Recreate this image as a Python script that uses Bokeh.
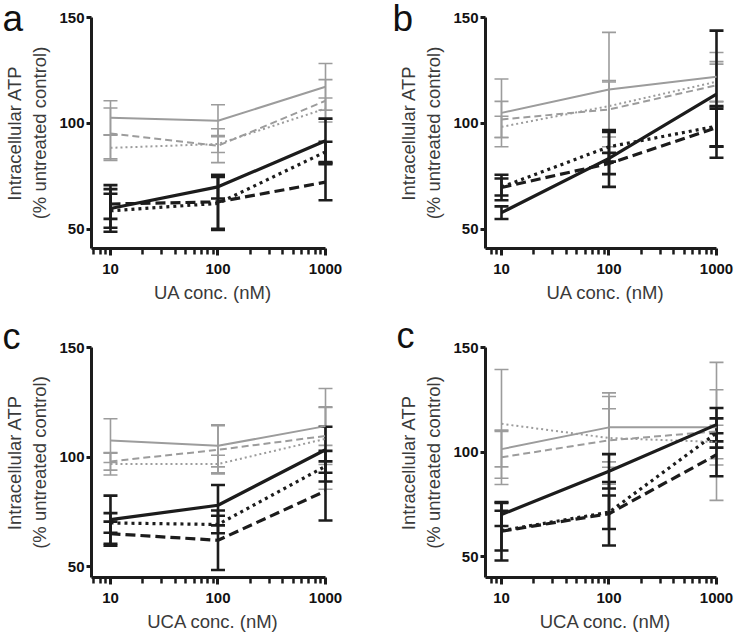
from bokeh.plotting import figure
from bokeh.layouts import gridplot
from bokeh.models import FixedTicker, NumeralTickFormatter
from bokeh.embed import file_html
from bokeh.resources import INLINE

conc = [10, 100, 1000]
x_major_ticks = [10, 100, 1000]
x_minor_ticks = [7, 8, 9, 20, 30, 40, 50, 60, 70, 80, 90, 200, 300, 400, 500, 600, 700, 800, 900]
y_ticks = [50, 100, 150]

# Panel a (UA)
a_gray_solid = [102.7, 101.3, 117.3];  a_gray_solid_err = [8, 7.5, 11]
a_gray_dashed = [95.3, 89.5, 110.7];   a_gray_dashed_err = [12, 8, 10]
a_gray_dotted = [88.5, 90.3, 107.0];   a_gray_dotted_err = [6, 4, 5]
a_black_solid = [59.9, 70.1, 91.8];    a_black_solid_err = [11, 5.5, 10.5]
a_black_dashed = [62.0, 63.0, 72.3];   a_black_dashed_err = [7, 12.7, 8.5]
a_black_dotted = [58.8, 62.3, 86.6];   a_black_dotted_err = [8, 12.5, 4.8]

# Panel b (UA)
b_gray_solid = [105.0, 116.0, 122.0];  b_gray_solid_err = [16, 27, 11.5]
b_gray_dashed = [101.9, 106.6, 118.0]; b_gray_dashed_err = [8.5, 13, 10]
b_gray_dotted = [98.4, 108.2, 119.7];  b_gray_dotted_err = [5, 12, 9.5]
b_black_solid = [57.9, 83.5, 113.8];   b_black_solid_err = [3, 13.4, 30]
b_black_dashed = [69.8, 81.1, 98.0];   b_black_dashed_err = [6, 5, 9]
b_black_dotted = [70.0, 89.0, 98.7];   b_black_dotted_err = [4, 7, 9.5]

# Panel c (UCA)
c_gray_solid = [107.5, 105.1, 114.1];  c_gray_solid_err = [10, 9.6, 8.8]
c_gray_dashed = [98.0, 103.3, 109.6];  c_gray_dashed_err = [4, 11, 13]
c_gray_dotted = [96.8, 96.8, 108.3];   c_gray_dotted_err = [5, 4, 23]
c_black_solid = [71.4, 78.0, 103.3];   c_black_solid_err = [11, 9.2, 10.5]
c_black_dashed = [65.0, 62.0, 84.5];   c_black_dashed_err = [5.5, 13.6, 13.5]
c_black_dotted = [69.9, 69.2, 95.8];   c_black_dotted_err = [4.5, 4, 7]

# Panel d (UCA)
d_gray_solid = [101.4, 111.8, 111.8];  d_gray_solid_err = [8.5, 16.5, 18]
d_gray_dashed = [97.5, 105.6, 109.9];  d_gray_dashed_err = [13, 21, 33]
d_gray_dotted = [113.5, 106.7, 104.8]; d_gray_dotted_err = [26, 14, 8]
d_black_solid = [70.1, 90.8, 113.1];   d_black_solid_err = [5.5, 8.2, 8]
d_black_dashed = [62.1, 70.5, 98.7];   d_black_dashed_err = [14, 15.2, 10.3]
d_black_dotted = [62.4, 71.2, 109.1];  d_black_dotted_err = [9.5, 8, 7]

GRAY = "#9c9c9c"
BLACK = "#1c1c1c"
FONT = "Liberation Sans"

styles = {
    "gray_solid": dict(color=GRAY, width=2.0, dash="solid", ew=1.6),
    "gray_dashed": dict(color=GRAY, width=2.0, dash="7 4", ew=1.6),
    "gray_dotted": dict(color=GRAY, width=2.0, dash="2 3", ew=1.6),
    "black_solid": dict(color=BLACK, width=3.2, dash="solid", ew=2.6),
    "black_dashed": dict(color=BLACK, width=3.2, dash="10 5", ew=2.6),
    "black_dotted": dict(color=BLACK, width=3.2, dash="3 4", ew=2.6),
}
order = ["gray_solid", "gray_dashed", "gray_dotted", "black_solid", "black_dashed", "black_dotted"]

panels = [
    dict(letter="a", xlabel="UA conc. (nM)", x_start=6.66, y_start=41,
         series={"gray_solid": (a_gray_solid, a_gray_solid_err), "gray_dashed": (a_gray_dashed, a_gray_dashed_err),
                 "gray_dotted": (a_gray_dotted, a_gray_dotted_err), "black_solid": (a_black_solid, a_black_solid_err),
                 "black_dashed": (a_black_dashed, a_black_dashed_err), "black_dotted": (a_black_dotted, a_black_dotted_err)},
         bl=91, br=34, bt=17, bb=72, off=-89, so=-43, fs="37px"),
    dict(letter="b", xlabel="UA conc. (nM)", x_start=7.1, y_start=41,
         series={"gray_solid": (b_gray_solid, b_gray_solid_err), "gray_dashed": (b_gray_dashed, b_gray_dashed_err),
                 "gray_dotted": (b_gray_dotted, b_gray_dotted_err), "black_solid": (b_black_solid, b_black_solid_err),
                 "black_dashed": (b_black_dashed, b_black_dashed_err), "black_dotted": (b_black_dotted, b_black_dotted_err)},
         bl=117, br=11, bt=17, bb=72, off=-93, so=-43, fs="37px"),
    dict(letter="c", xlabel="UCA conc. (nM)", x_start=6.66, y_start=45,
         series={"gray_solid": (c_gray_solid, c_gray_solid_err), "gray_dashed": (c_gray_dashed, c_gray_dashed_err),
                 "gray_dotted": (c_gray_dotted, c_gray_dotted_err), "black_solid": (c_black_solid, c_black_solid_err),
                 "black_dashed": (c_black_dashed, c_black_dashed_err), "black_dotted": (c_black_dotted, c_black_dotted_err)},
         bl=91, br=34, bt=25, bb=62, off=-89, so=-18, fs="36px"),
    dict(letter="c", xlabel="UCA conc. (nM)", x_start=7.1, y_start=40,
         series={"gray_solid": (d_gray_solid, d_gray_solid_err), "gray_dashed": (d_gray_dashed, d_gray_dashed_err),
                 "gray_dotted": (d_gray_dotted, d_gray_dotted_err), "black_solid": (d_black_solid, d_black_solid_err),
                 "black_dashed": (d_black_dashed, d_black_dashed_err), "black_dotted": (d_black_dotted, d_black_dotted_err)},
         bl=117, br=11, bt=27, bb=63, off=-89, so=-16, fs="36px"),
]

W, H = 368, 320
figs = []
for pn in panels:
    x_end = 1000 * 10 ** (9 / 107.5)
    p = figure(width=W, height=H, x_axis_type="log", x_range=(pn["x_start"], x_end),
               y_range=(pn["y_start"], 150), output_backend="svg", toolbar_location=None,
               min_border_left=pn["bl"], min_border_right=pn["br"], min_border_top=pn["bt"],
               min_border_bottom=pn["bb"])
    p.outline_line_color = None
    p.grid.visible = False
    p.background_fill_color = "white"

    # panel letter as the (left-aligned, shifted) title
    p.title.text = pn["letter"]
    p.title.align = "left"
    p.title.vertical_align = "bottom"
    p.title.offset = pn["off"]
    p.title.standoff = pn["so"]
    p.title.text_font = FONT
    p.title.text_font_size = pn["fs"]
    p.title.text_font_style = "normal"
    p.title.text_color = "#111111"

    xa = p.xaxis[0]
    xa.ticker = FixedTicker(ticks=x_major_ticks, minor_ticks=x_minor_ticks)
    xa.formatter = NumeralTickFormatter(format="0")
    xa.bounds = (pn["x_start"], 1000)
    xa.axis_label = pn["xlabel"]
    ya = p.yaxis[0]
    ya.ticker = FixedTicker(ticks=y_ticks)
    ya.axis_label = "Intracellular ATP\n(% untreated control)"
    for ax in (xa, ya):
        ax.axis_line_width = 3
        ax.axis_line_color = BLACK
        ax.major_tick_line_width = 3
        ax.major_tick_line_color = BLACK
        ax.minor_tick_line_width = 2.5
        ax.minor_tick_line_color = BLACK
        ax.major_tick_in = 0
        ax.minor_tick_in = 0
        ax.major_label_text_font = FONT
        ax.major_label_text_font_style = "bold"
        ax.major_label_text_font_size = "15px"
        ax.major_label_text_color = "#111111"
        ax.axis_label_text_font = FONT
        ax.axis_label_text_font_style = "normal"
        ax.axis_label_text_font_size = "18.5px"
        ax.axis_label_text_color = "#3a3a3a"
    xa.major_tick_out = 7
    xa.minor_tick_out = 6
    xa.major_label_standoff = 8
    xa.axis_label_standoff = 5
    ya.major_tick_out = 5
    ya.minor_tick_out = 0
    ya.major_label_standoff = 2
    ya.axis_label_standoff = 6

    for key in order:
        vals, errs = pn["series"][key]
        st = styles[key]
        lo = [v - e for v, e in zip(vals, errs)]
        hi = [v + e for v, e in zip(vals, errs)]
        p.segment(conc, lo, conc, hi, line_color=st["color"], line_width=st["ew"])
        p.scatter(conc, lo, marker="dash", size=14, line_color=st["color"], line_width=st["ew"])
        p.scatter(conc, hi, marker="dash", size=14, line_color=st["color"], line_width=st["ew"])
    for key in order:
        vals, errs = pn["series"][key]
        st = styles[key]
        p.line(conc, vals, line_color=st["color"], line_width=st["width"], line_dash=st["dash"])

    figs.append(p)

grid = gridplot([[figs[0], figs[1]], [figs[2], figs[3]]], toolbar_location=None)
open("out.html", "w").write(file_html(grid, INLINE))
